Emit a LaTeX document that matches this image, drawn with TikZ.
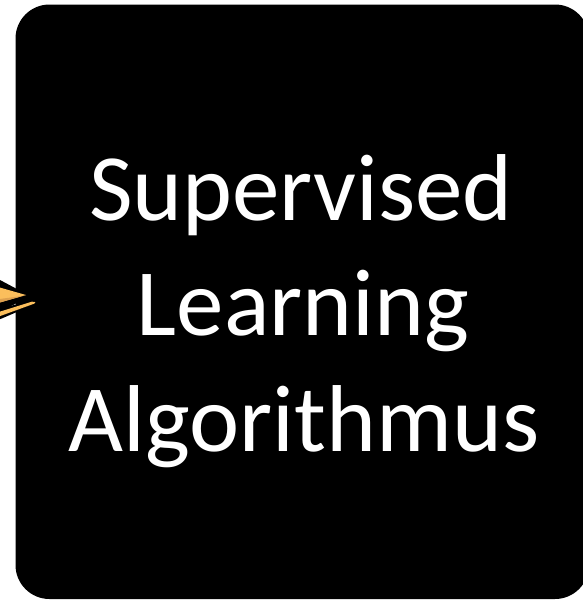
\documentclass[tikz,border=0pt]{standalone}
\usepackage{fontspec}
\setmainfont{Carlito}
\definecolor{arrowlight}{RGB}{251,190,92}
\definecolor{arrowdark}{RGB}{222,160,78}
\tikzset{
  bigbox/.style={fill=black, draw=none, rounded corners=34pt},
  label/.style={text=white, font=\fontsize{95}{114}\selectfont, anchor=base, inner sep=0pt},
}
\begin{document}
\begin{tikzpicture}[x=1pt,y=-1pt]
\useasboundingbox (0,0) rectangle (582,600);
% box
\path[bigbox] (15.5,4.5) rectangle (589,599);
% arrow head (partially visible)
\begin{scope}
\clip (0,0) rectangle (582,600);
\fill[black] (-30,264) -- (30,296) -- (-30,328) -- cycle;
\fill[arrowlight] (-30,279) -- (26,295) -- (-30,311) -- cycle;
\fill[arrowdark] (-30,303) -- (22,296) -- (26,295) -- (-30,311) -- cycle;
\fill[black] (-30,316) -- (34,300) -- (38,303) -- (-30,332) -- cycle;
\fill[arrowlight, rounded corners=2pt] (-30,321) -- (34,301) -- (36,303) -- (-30,327) -- cycle;
\end{scope}
% text
\node[label] (l1) at (301,220) {Supervised};
\node[label] (l2) at (303,335) {Learning};
\node[label] (l3) at (304,451) {Algorithmus};
\end{tikzpicture}
\end{document}
